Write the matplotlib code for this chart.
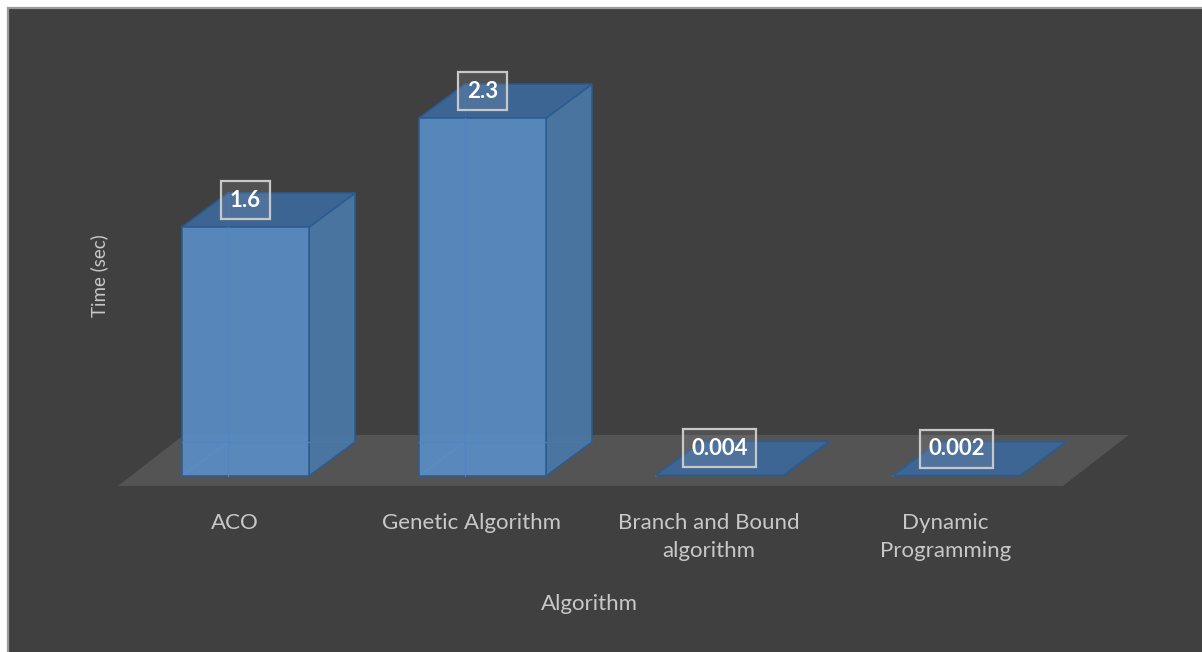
import matplotlib
matplotlib.use("Agg")
import matplotlib.pyplot as plt
from matplotlib.patches import Polygon, Rectangle

categories = ["ACO", "Genetic Algorithm", "Branch and Bound\nalgorithm", "Dynamic\nProgramming"]
times = [1.6, 2.3, 0.004, 0.002]
value_labels = ["1.6", "2.3", "0.004", "0.002"]
x_title = "Algorithm"
y_title = "Time (sec)"

# 3-D look: bar size and depth offsets (in data units)
BAR_W = 0.536
DEPTH_DX = 0.194
DEPTH_DY = 0.2185
FLOOR_FRONT = -0.064
FLOOR_DX = 0.278
FLOOR_DY = 0.328

BG = "#404040"
FLOOR = "#545454"
FRONT = "#5A8DC7"
SIDE = "#4A77A6"
TOP = "#3D6898"
EDGE = "#2B5C8F"
TEXT = "#C8C8C8"

plt.rcParams["font.family"] = ["Lato", "DejaVu Sans"]

fig = plt.figure(figsize=(12.02, 6.52), dpi=100)
fig.patch.set_facecolor("white")
# chart area with a thin grey frame at top and left
frame = Rectangle((8 / 1202, -0.01), 1.0, (644 / 652) + 0.01,
                  transform=fig.transFigure, facecolor=BG,
                  edgecolor="#9A9A9A", linewidth=1.6, zorder=-5)
fig.add_artist(frame)

ax = fig.add_axes([0, 0, 1, 1])
ax.patch.set_visible(False)
ax.set_axis_off()
ax.set_xlim(-1.0359, 4.0359)
ax.set_ylim(-1.131, 3.059)

n = len(categories)
# floor
fl, fr = -0.538, (n - 1) + 0.449
ax.add_patch(Polygon([(fl, FLOOR_FRONT), (fr, FLOOR_FRONT),
                      (fr + FLOOR_DX, FLOOR_FRONT + FLOOR_DY),
                      (fl + FLOOR_DX, FLOOR_FRONT + FLOOR_DY)],
                     closed=True, facecolor=FLOOR, edgecolor="none", zorder=1))

for i, (h, lab) in enumerate(zip(times, value_labels)):
    x0, x1 = i - BAR_W / 2, i + BAR_W / 2
    dx, dy = DEPTH_DX, DEPTH_DY
    # hidden back edges show through the translucent bar
    ax.plot([x0 + dx, x0 + dx], [dy, h + dy], color="#4F86C2", lw=1.0, zorder=2)
    ax.plot([x0, x0 + dx, x1 + dx], [0, dy, dy], color="#4F86C2", lw=1.0, zorder=2)
    # right side
    ax.add_patch(Polygon([(x1, 0), (x1 + dx, dy), (x1 + dx, h + dy), (x1, h)],
                         closed=True, facecolor=SIDE, edgecolor=EDGE,
                         linewidth=1.2, alpha=0.95, zorder=3))
    # top
    ax.add_patch(Polygon([(x0, h), (x1, h), (x1 + dx, h + dy), (x0 + dx, h + dy)],
                         closed=True, facecolor=TOP, edgecolor=EDGE,
                         linewidth=1.2, alpha=0.95, zorder=3))
    # front
    if h > 0.05:
        ax.add_patch(Rectangle((x0, 0), BAR_W, h, facecolor=FRONT,
                               edgecolor=EDGE, linewidth=1.2, alpha=0.92, zorder=4))
        ax.plot([x0 + dx, x0 + dx], [0, h], color="#4F86C2", lw=0.8, zorder=5)
        ax.plot([x0, x1], [dy, dy], color="#4F86C2", lw=0.8, zorder=5)
    # value label
    ax.text(i, h + dy / 2 + 0.064, lab, ha="center", va="center",
            fontsize=16, fontweight="bold", color="white", zorder=7,
            bbox=dict(boxstyle="square,pad=0.38", facecolor=(1, 1, 1, 0.09),
                      edgecolor="#C8C8C8", linewidth=1.6))

# category labels
for i, c in enumerate(categories):
    ax.text(i - 0.047, -0.24, c, ha="center", va="top", fontsize=16,
            color=TEXT, linespacing=1.45, zorder=6)

ax.text((n - 1) / 2 - 0.047, -0.82, x_title, ha="center", va="center",
        fontsize=16, color=TEXT)
ax.text(-0.618, 1.29, y_title, ha="center", va="center", rotation=90,
        fontsize=13.5, color=TEXT)

fig.savefig("out.png", dpi=100, facecolor=fig.get_facecolor())
